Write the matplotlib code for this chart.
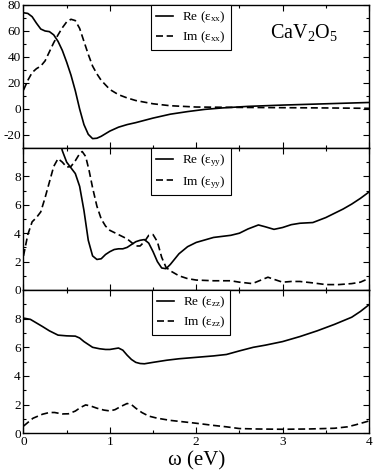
import matplotlib
matplotlib.use("Agg")
import matplotlib.pyplot as plt
from matplotlib.ticker import MultipleLocator

plt.rcParams['font.family'] = ['Liberation Serif', 'DejaVu Serif']
plt.rcParams['mathtext.fontset'] = 'custom'
plt.rcParams['mathtext.rm'] = 'Liberation Serif'
plt.rcParams['mathtext.it'] = 'Liberation Serif:italic'
plt.rcParams['axes.unicode_minus'] = False

# --- datos ---
w_re_xx = [0, 0.05, 0.1, 0.15, 0.2, 0.25, 0.3, 0.35, 0.4, 0.45, 0.5, 0.55, 0.6, 0.65,
           0.7, 0.75, 0.8, 0.85, 0.9, 0.95, 1.0, 1.1, 1.2, 1.3, 1.5, 1.7, 1.9, 2.1,
           2.3, 2.6, 3.0, 3.5, 4.0]
re_xx = [74, 73.5, 71, 66, 61.5, 60, 59.5, 57, 52, 45, 36, 26, 14, 0,
         -12, -19.5, -22.8, -22.5, -21, -19, -17, -14, -12, -10.5, -7, -4, -2, -0.3,
         0.8, 2, 3, 4, 5]
w_im_xx = [0, 0.05, 0.1, 0.15, 0.2, 0.25, 0.3, 0.35, 0.4, 0.45, 0.5, 0.55, 0.6, 0.65,
           0.7, 0.75, 0.8, 0.85, 0.9, 1.0, 1.1, 1.2, 1.3, 1.5, 1.7, 2.0, 2.5, 3.0, 3.5, 4.0]
im_xx = [14.5, 22, 28, 31, 33, 37, 44, 51, 57, 62.5, 67, 69, 68, 62,
         52, 42, 33, 27, 22, 15, 11, 8.5, 6.5, 4, 2.5, 1.5, 1.2, 1.0, 0.8, 0.5]

w_re_yy = [0.3, 0.35, 0.4, 0.45, 0.5, 0.55, 0.6, 0.65, 0.7, 0.75, 0.8, 0.85, 0.9, 0.95,
           1.0, 1.05, 1.1, 1.15, 1.2, 1.25, 1.3, 1.35, 1.4, 1.45, 1.5, 1.55, 1.6, 1.65,
           1.7, 1.8, 1.9, 2.0, 2.2, 2.4, 2.5, 2.6, 2.72, 2.8, 2.9, 3.0, 3.1, 3.2, 3.35,
           3.5, 3.6, 3.7, 3.8, 3.9, 4.0]
re_yy = [14, 12.5, 11, 9.8, 9.0, 8.6, 8.2, 7.3, 5.6, 3.5, 2.4, 2.15, 2.2, 2.5,
         2.7, 2.85, 2.9, 2.9, 3.0, 3.2, 3.4, 3.5, 3.55, 3.3, 2.7, 2.0, 1.55, 1.5,
         1.8, 2.55, 3.05, 3.35, 3.7, 3.85, 4.0, 4.3, 4.58, 4.45, 4.27, 4.4, 4.6, 4.7, 4.75,
         5.1, 5.4, 5.7, 6.05, 6.45, 6.9]
w_im_yy = [0, 0.05, 0.1, 0.15, 0.2, 0.25, 0.3, 0.35, 0.4, 0.45, 0.5, 0.55, 0.6, 0.65,
           0.68, 0.72, 0.76, 0.8, 0.85, 0.9, 0.95, 1.0, 1.1, 1.2, 1.3, 1.35, 1.4, 1.45,
           1.5, 1.55, 1.6, 1.65, 1.7, 1.8, 1.9, 2.0, 2.2, 2.4, 2.5, 2.65, 2.75, 2.83,
           2.9, 3.0, 3.1, 3.2, 3.35, 3.5, 3.65, 3.8, 3.9, 4.0]
im_yy = [2.4, 3.9, 4.8, 5.1, 5.5, 6.5, 7.6, 8.7, 9.25, 9.0, 8.65, 8.7, 9.1, 9.6,
         9.75, 9.4, 8.4, 7.2, 5.9, 5.0, 4.5, 4.2, 3.9, 3.6, 3.1, 3.1, 3.4, 3.85,
         3.9, 3.4, 2.3, 1.6, 1.35, 1.0, 0.8, 0.7, 0.65, 0.65, 0.55, 0.45, 0.7, 0.9,
         0.75, 0.55, 0.6, 0.6, 0.5, 0.38, 0.38, 0.45, 0.55, 0.82]

w_re_zz = [0, 0.08, 0.15, 0.22, 0.3, 0.4, 0.5, 0.6, 0.65, 0.7, 0.75, 0.8, 0.88, 0.95,
           1.0, 1.05, 1.1, 1.15, 1.2, 1.25, 1.3, 1.35, 1.4, 1.5, 1.66, 1.8, 2.0, 2.2,
           2.35, 2.5, 2.66, 2.8, 3.0, 3.2, 3.4, 3.6, 3.8, 3.9, 4.0]
re_zz = [8.04, 7.95, 7.7, 7.45, 7.15, 6.85, 6.8, 6.78, 6.65, 6.4, 6.2, 6.0, 5.9, 5.85,
         5.85, 5.9, 5.95, 5.8, 5.45, 5.15, 4.95, 4.87, 4.85, 4.95, 5.1, 5.2, 5.3, 5.4,
         5.5, 5.75, 6.0, 6.15, 6.4, 6.75, 7.15, 7.6, 8.1, 8.5, 8.97]
w_im_zz = [0, 0.05, 0.11, 0.22, 0.3, 0.36, 0.45, 0.52, 0.6, 0.66, 0.72, 0.78, 0.85, 0.93,
           1.0, 1.06, 1.12, 1.2, 1.25, 1.3, 1.37, 1.45, 1.55, 1.7, 1.85, 2.0, 2.2, 2.35,
           2.5, 2.7, 3.0, 3.3, 3.6, 3.75, 3.85, 4.0]
im_zz = [0.5, 0.75, 1.05, 1.33, 1.45, 1.45, 1.35, 1.36, 1.55, 1.8, 1.98, 1.9, 1.75, 1.62,
         1.56, 1.65, 1.85, 2.08, 2.0, 1.75, 1.45, 1.2, 1.05, 0.9, 0.8, 0.7, 0.55, 0.45,
         0.33, 0.3, 0.28, 0.3, 0.35, 0.45, 0.6, 0.86]

comps = ['xx', 'yy', 'zz']
datos = [(w_re_xx, re_xx, w_im_xx, im_xx),
         (w_re_yy, re_yy, w_im_yy, im_yy),
         (w_re_zz, re_zz, w_im_zz, im_zz)]
ylims = [(-30, 80), (0, 10), (0, 10)]
yticks = [[-20, 0, 20, 40, 60, 80], [0, 2, 4, 6, 8], [0, 2, 4, 6, 8]]
yminor = [10, 1, 1]

fig = plt.figure(figsize=(3.74, 4.74), dpi=100)
left, width = 0.0628, 0.9238
cajas = [(0.6878, 0.3017), (0.3882, 0.2996), (0.0859, 0.3023)]

for i, (comp, (wr, re, wi, im)) in enumerate(zip(comps, datos)):
    ax = fig.add_axes([left, cajas[i][0], width, cajas[i][1]])
    ax.plot(wr, re, color='black', lw=1.2, label='Re (ε$_{\\mathrm{%s}}$)' % comp)
    ax.plot(wi, im, color='black', lw=1.2, dashes=(4.2, 2.2), label='Im (ε$_{\\mathrm{%s}}$)' % comp)
    ax.set_xlim(0, 4)
    ax.set_ylim(*ylims[i])
    ax.set_yticks(yticks[i])
    ax.yaxis.set_minor_locator(MultipleLocator(yminor[i]))
    ax.xaxis.set_major_locator(MultipleLocator(1))
    ax.xaxis.set_minor_locator(MultipleLocator(0.5))
    ax.tick_params(which='both', direction='in', top=True, right=True, labelsize=9.5,
                   width=0.8, pad=2)
    ax.tick_params(which='major', length=4)
    ax.tick_params(which='minor', length=2.5)
    for s in ax.spines.values():
        s.set_linewidth(1.0)
    if i < 2:
        ax.tick_params(labelbottom=False)
    leg = ax.legend(loc='upper center', bbox_to_anchor=(0.485, 1.0), borderaxespad=0,
                    fancybox=False, edgecolor='black', framealpha=1, fontsize=9.5,
                    handlelength=1.3, handletextpad=0.7, labelspacing=0.35,
                    borderpad=0.35)
    leg.get_frame().set_linewidth(0.8)
    if i == 0:
        ax.text(0.713, 0.77, 'CaV$_2$O$_5$', transform=ax.transAxes, fontsize=14.5)
    if i == 2:
        ax.set_xlabel('ω (eV)', fontsize=15, labelpad=2)

fig.savefig('out.png', dpi=100)
